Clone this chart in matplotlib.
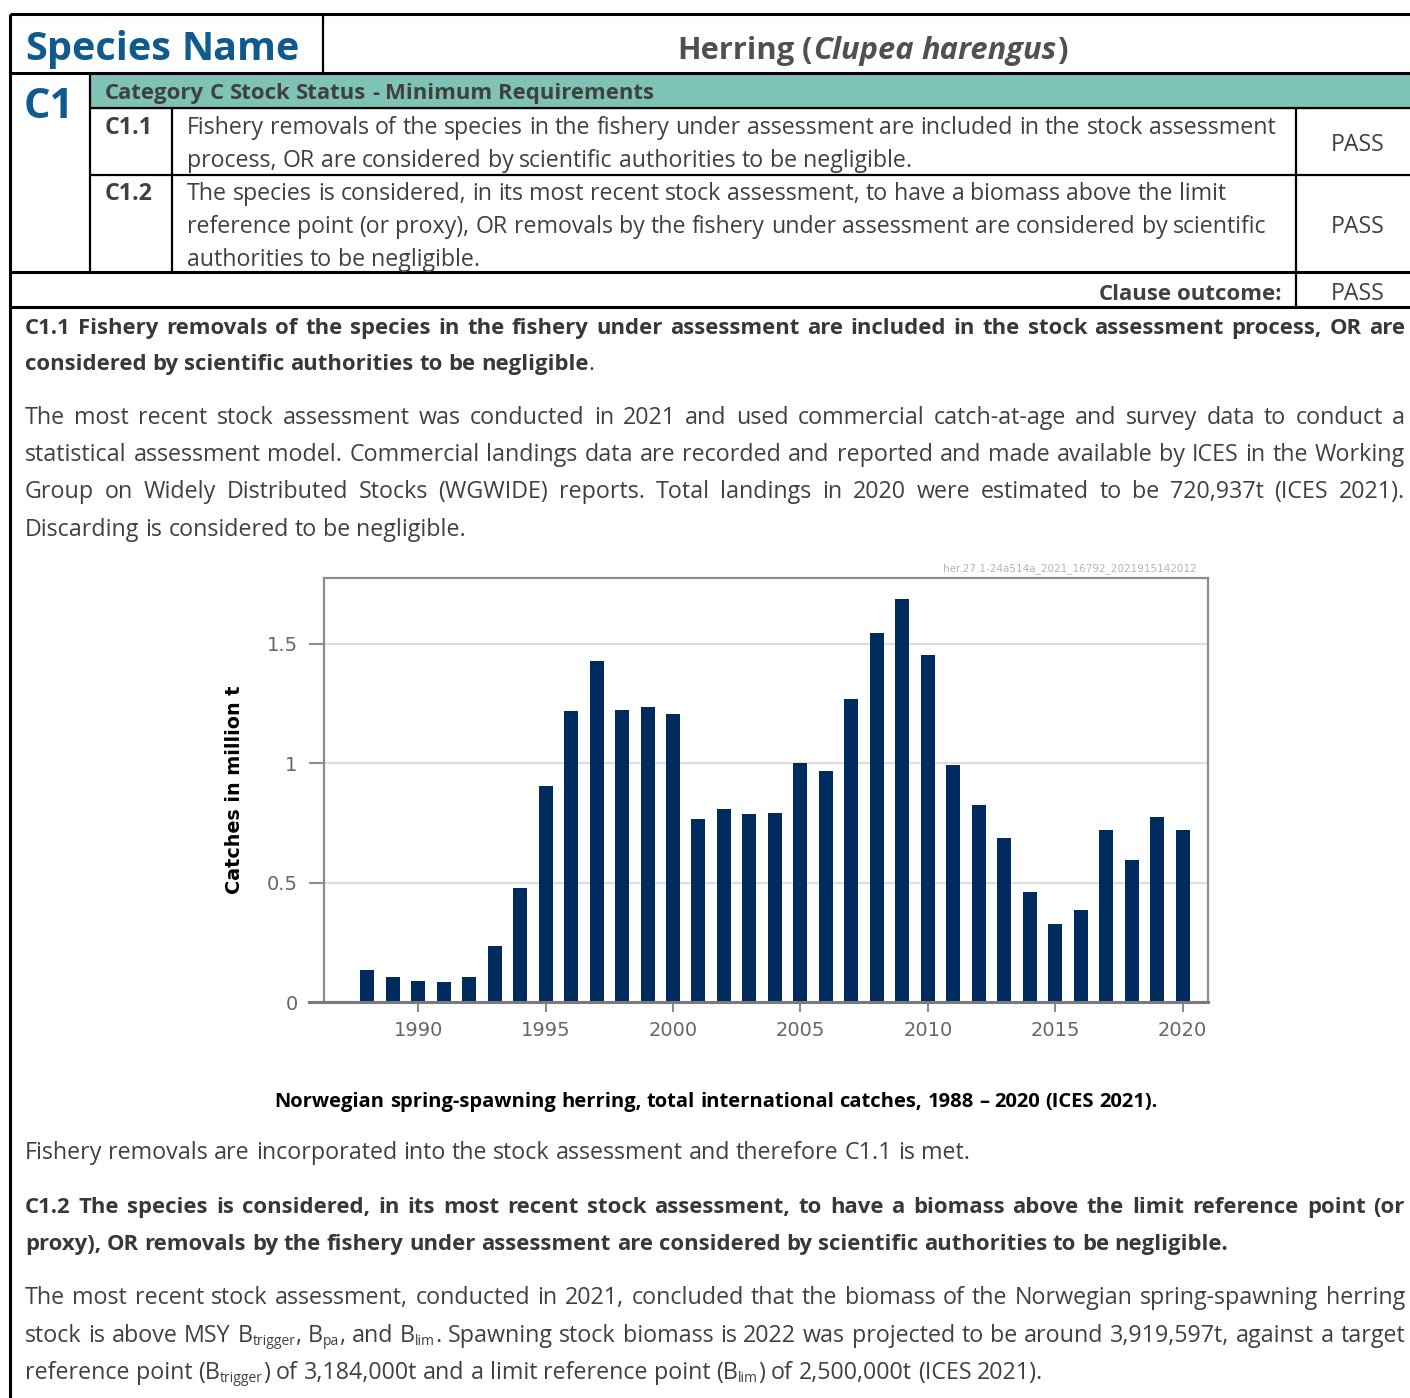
import re
import matplotlib
matplotlib.use("Agg")
import matplotlib.pyplot as plt
from matplotlib.patches import Rectangle

# catches by year, million t
years = list(range(1988, 2021))
catches = [0.134, 0.103, 0.088, 0.083, 0.106, 0.234, 0.479, 0.904, 1.217, 1.428,
           1.222, 1.234, 1.208, 0.768, 0.808, 0.788, 0.793, 1.003, 0.968, 1.268,
           1.546, 1.686, 1.454, 0.992, 0.826, 0.686, 0.461, 0.327, 0.384, 0.721,
           0.593, 0.776, 0.719]
y_ticks = [0, 0.5, 1, 1.5]
y_tick_labels = ["0", "0.5", "1", "1.5"]
x_ticks = [1990, 1995, 2000, 2005, 2010, 2015, 2020]
y_label = "Catches in million t"
stamp = "her.27.1-24a514a_2021_16792_2021915142012"
caption = "Norwegian spring-spawning herring, total international catches, 1988 \u2013 2020 (ICES 2021)."

row1_text = ["Fishery removals of the species in the fishery under assessment are included in the stock assessment",
             "process, OR are considered by scientific authorities to be negligible."]
row2_text = ["The species is considered, in its most recent stock assessment, to have a biomass above the limit",
             "reference point (or proxy), OR removals by the fishery under assessment are considered by scientific",
             "authorities to be negligible."]
para1 = ["C1.1 Fishery removals of the species in the fishery under assessment are included in the stock assessment process, OR are",
         "considered by scientific authorities to be negligible"]
para2 = ["The most recent stock assessment was conducted in 2021 and used commercial catch-at-age and survey data to conduct a",
         "statistical assessment model. Commercial landings data are recorded and reported and made available by ICES in the Working",
         "Group on Widely Distributed Stocks (WGWIDE) reports. Total landings in 2020 were estimated to be 720,937t (ICES 2021).",
         "Discarding is considered to be negligible."]
para3 = "Fishery removals are incorporated into the stock assessment and therefore C1.1 is met."
para4 = ["C1.2 The species is considered, in its most recent stock assessment, to have a biomass above the limit reference point (or",
         "proxy), OR removals by the fishery under assessment are considered by scientific authorities to be negligible."]
para5 = ["The most recent stock assessment, conducted in 2021, concluded that the biomass of the Norwegian spring-spawning herring",
         "stock is above MSY B_{trigger}, B_{pa}, and B_{lim}. Spawning stock biomass is 2022 was projected to be around 3,919,597t, against a target",
         "reference point (B_{trigger}) of 3,184,000t and a limit reference point (B_{lim}) of 2,500,000t (ICES 2021)."]

FONT = "Open Sans"
GREY = "#404040"
BLUE = "#0f5a8f"
TEAL = "#7fc3b6"
NAVY = "#002b5e"

fig = plt.figure(figsize=(14.1, 13.98), dpi=100)
page = fig.add_axes([0, 0, 1, 1])
page.set_xlim(0, 1410)
page.set_ylim(1398, 0)
page.axis("off")
renderer = fig.canvas.get_renderer()


def width_of(t):
    return t.get_window_extent(renderer).width


def fit_size(sample, target, weight="normal"):
    # font size that makes sample as wide (px) as in the scanned page
    t = page.text(0, 0, sample, family=FONT, fontsize=10, fontweight=weight)
    w = width_of(t)
    t.remove()
    return 10 * target / w


BODY = fit_size(para3, 943)
TABLE = fit_size(row1_text[0], 1089)


def words_of(segments):
    words = [[]]
    for text, weight, style in segments:
        for i, part in enumerate(text.split(" ")):
            if i:
                words.append([])
            for j, piece in enumerate(re.split(r"_\{(.*?)\}", part)):
                if piece:
                    words[-1].append((piece, weight, style, j % 2 == 1))
    return [w for w in words if w]


def write(segments, x, y, size=None, color=GREY, x_end=None, ha="left"):
    # lay words out one by one so lines can be justified like the document
    if size is None:
        size = BODY
    if isinstance(segments, str):
        segments = [(segments, "normal", "normal")]
    px = size * 100 / 72
    boxes = []
    for word in words_of(segments):
        parts, off = [], 0
        for piece, weight, style, sub in word:
            t = page.text(0, y + (0.14 * px if sub else 0), piece, family=FONT,
                          fontsize=size * 0.6 if sub else size,
                          fontweight=weight, fontstyle=style, color=color, va="baseline")
            parts.append((t, off))
            off += width_of(t)
        boxes.append((parts, off))
    probe = dict(family=FONT, fontsize=size, fontweight=segments[0][1])
    a = page.text(0, 0, "n n", **probe)
    b = page.text(0, 0, "nn", **probe)
    space = width_of(a) - width_of(b)
    a.remove()
    b.remove()
    total = sum(w for _, w in boxes)
    gap = space
    if x_end is not None and len(boxes) > 1:
        gap = max((x_end - x - total) / (len(boxes) - 1), 0.5 * space)
    full = total + gap * (len(boxes) - 1)
    start = {"left": x, "center": x - full / 2, "right": x - full}[ha]
    for parts, w in boxes:
        for t, off in parts:
            t.set_x(start + off)
        start += w + gap


def bold(s):
    return [(s, "bold", "normal")]


def hline(y, x0, x1, lw=1.6):
    page.plot([x0, x1], [y, y], color="black", lw=lw, solid_capstyle="butt")


def vline(x, y0, y1, lw=1.6):
    page.plot([x, x], [y0, y1], color="black", lw=lw, solid_capstyle="butt")


# ---- header table ----
page.add_patch(Rectangle((90, 73), 1320, 35, color=TEAL, zorder=0))
hline(14, 10, 1410, 2.2)
hline(73, 10, 1410, 2.2)
hline(108, 90, 1410)
hline(175, 90, 1410)
hline(272, 10, 1410, 2.2)
hline(307, 10, 1410, 2.2)
vline(10, 14, 1398, 2.2)
vline(323, 14, 73)
vline(90, 73, 272)
vline(172, 108, 272)
vline(1296, 108, 307)

write(bold("Species Name"), 25, 60, size=fit_size("Species Name", 275, "bold"), color=BLUE)
write([("Herring (", "bold", "normal"), ("Clupea harengus", "bold", "italic"), (")", "bold", "normal")],
      872, 59, size=fit_size("Herring (Clupea harengus)", 405, "bold"), color="#505050", ha="center")
write(bold("C1"), 24, 118, size=fit_size("C1", 50, "bold"), color=BLUE)
write(bold("Category C Stock Status - Minimum Requirements"), 105, 99,
      size=fit_size("Category C Stock Status - Minimum Requirements", 550, "bold"), color=GREY)
write(bold("C1.1"), 105, 134, size=TABLE)
write(bold("C1.2"), 105, 200, size=TABLE)
for line, yb in zip(row1_text, [134, 167]):
    write(line, 187, yb, size=TABLE)
for line, yb in zip(row2_text, [200, 233, 266]):
    write(line, 187, yb, size=TABLE)
for yb in [151, 233, 300]:
    write("PASS", 1358, yb, size=TABLE, ha="center")
write(bold("Clause outcome:"), 1282, 300, size=fit_size("Clause outcome:", 184, "bold"), ha="right")

# ---- body text ----
BOLD_BODY = fit_size(para4[1], 1205, "bold")
write(bold(para1[0]), 25, 334, size=BOLD_BODY, x_end=1405, color="#383838")
write(bold(para1[1]) + [(".", "normal", "normal")], 25, 370, size=BOLD_BODY, color="#383838")
for i, (line, yb) in enumerate(zip(para2, [424, 461, 498, 536])):
    write(line, 25, yb, x_end=1405 if i < 3 else None)
write(bold(caption), 716, 1107, size=fit_size(caption, 885, "bold"), color="black", ha="center")
write(para3, 25, 1159)
write(bold(para4[0]), 25, 1213, size=BOLD_BODY, x_end=1405, color="#383838")
write(bold(para4[1]), 25, 1250, size=BOLD_BODY, color="#383838")
for i, (line, yb) in enumerate(zip(para5, [1304, 1342, 1379])):
    write(line, 25, yb, x_end=1405 if i < 2 else None)

# ---- catches chart ----
chart = fig.add_axes([324 / 1410, 1 - 1002 / 1398, 884 / 1410, 424 / 1398])
chart.bar(years, catches, width=0.55, color=NAVY, zorder=3)
chart.set_xlim(1986.3, 2021.0)
chart.set_ylim(0, 1.776)
chart.set_xticks(x_ticks)
chart.set_yticks(y_ticks)
chart.set_yticklabels(y_tick_labels)
chart.yaxis.grid(True, color="#dedede", lw=1.6)
chart.set_axisbelow(True)
for side in ["left", "top", "right"]:
    chart.spines[side].set_color("#8c8c8c")
    chart.spines[side].set_linewidth(1.6)
chart.spines["bottom"].set_visible(False)
chart.plot([-15 / 884, 1], [0, 0], color="#7a7a7a", lw=2.2, clip_on=False, zorder=4,
           transform=chart.get_yaxis_transform())
chart.tick_params(axis="y", length=11, width=1.5, color="#8c8c8c", pad=8, labelsize=14, labelcolor="#666666")
chart.tick_params(axis="x", length=7, width=1.5, color="#8c8c8c", pad=7, labelsize=14, labelcolor="#666666")
chart.set_ylabel(y_label, fontweight="bold", fontsize=13.8, color="black")
chart.yaxis.set_label_coords(-0.09, 0.5)
page.text(1197, 571, stamp, ha="right", va="baseline", fontsize=7.5, color="#b0b4c0")

fig.savefig("out.png", dpi=100)
